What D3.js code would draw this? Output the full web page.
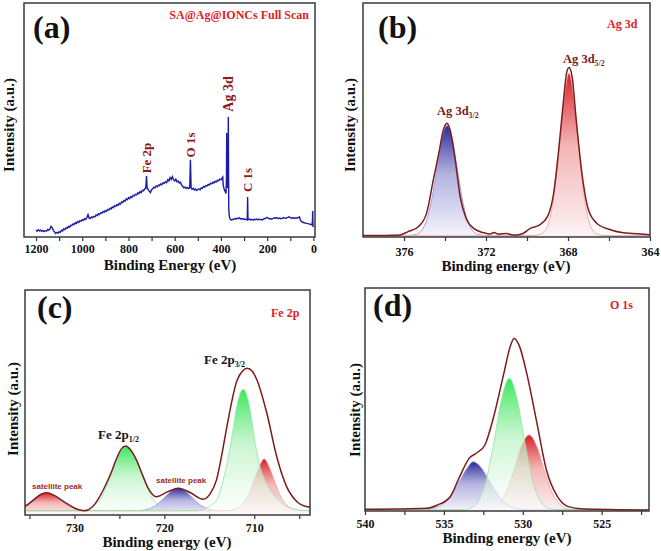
<!DOCTYPE html>
<html><head><meta charset="utf-8">
<script src="https://cdn.jsdelivr.net/npm/d3@7"></script>
<style>body{margin:0;background:#fff}svg{display:block}</style>
</head><body>
<svg id="chart" width="661" height="551"></svg>
<script>
// ---------------- DATA ----------------
// (a) survey spectrum [binding energy eV, intensity a.u.]
const surveyData = [
[1200,3.0],[1195,2.5],[1190,3.1],[1185,2.6],[1180,2.9],[1175,2.4],[1170,2.8],[1165,2.3],[1160,2.7],[1155,2.5],
[1150,3.2],[1145,2.9],[1140,3.4],[1135,4.6],[1130,4.0],[1125,2.8],[1120,2.2],[1115,1.5],[1110,2.0],[1105,1.6],
[1100,2.3],[1095,2.0],[1090,2.9],[1085,2.6],[1080,3.5],[1075,3.1],[1070,4.0],[1065,3.7],[1060,4.5],[1055,4.2],
[1050,5.0],[1045,4.9],[1040,5.6],[1035,5.3],[1030,6.1],[1025,5.8],[1020,6.6],[1015,6.2],[1010,7.0],[1005,6.8],
[1000,7.4],[995,7.1],[990,7.8],[985,7.5],[980,8.3],[975,9.6],[970,8.0],[965,7.9],[960,8.6],[955,8.3],
[950,8.8],[945,8.6],[940,9.4],[935,9.1],[930,9.9],[925,9.6],[920,10.4],[915,10.1],[910,10.9],[905,10.6],
[900,11.3],[895,11.0],[890,11.8],[885,11.5],[880,12.3],[875,12.0],[870,12.9],[865,12.5],[860,13.4],[855,13.1],
[850,13.8],[845,13.5],[840,14.4],[835,14.0],[830,15.0],[825,14.7],[820,15.6],[815,15.3],[810,16.3],[805,15.9],
[800,16.8],[795,16.4],[790,17.3],[785,16.9],[780,17.8],[775,17.6],[770,18.2],[765,18.0],[760,18.8],[755,18.5],
[750,19.4],[745,19.0],[740,20.0],[735,19.7],[730,20.5],[725,21.0],[722,26.1],[719,20.8],[715,20.4],[710,19.6],
[705,19.0],[700,20.2],[695,20.6],[690,21.3],[685,21.0],[680,21.8],[675,21.5],[670,22.2],[665,22.0],[660,22.7],
[655,22.4],[650,23.2],[645,22.9],[640,23.6],[635,23.2],[630,24.5],[625,24.0],[620,25.4],[615,24.6],[610,25.8],
[605,24.5],[600,24.0],[595,24.7],[590,23.6],[585,23.9],[580,23.1],[575,23.4],[570,22.2],[565,21.6],[560,21.0],
[555,21.3],[550,20.8],[545,21.2],[540,20.7],[535,21.0],[532,33.0],[529,21.0],[525,20.4],[520,20.8],[515,20.1],
[510,20.5],[505,19.9],[500,20.3],[495,20.6],[490,20.2],[485,21.0],[480,20.8],[475,21.6],[470,21.3],[465,22.0],
[460,21.8],[455,22.5],[450,22.2],[445,23.0],[440,22.7],[435,23.4],[430,23.1],[425,23.8],[420,23.5],[415,24.3],
[410,24.0],[405,24.7],[400,24.4],[395,25.2],[392,25.6],[390,22.0],[386,20.5],[382,19.5],[378,18.6],[376,25.0],
[375,44.4],[374,28.0],[372,21.0],[370,22.2],[369,35.0],[368,51.3],[367,30.0],[366,12.0],[364,9.0],[361,7.9],
[358,7.4],[355,7.3],[350,7.6],[345,7.5],[340,7.9],[335,7.6],[330,8.1],[325,7.8],[320,8.2],[315,7.7],
[310,7.9],[305,7.6],[300,7.8],[295,7.4],[290,7.6],[286,7.3],[284.5,17.1],[283,7.6],[280,7.4],[275,7.7],
[270,7.3],[265,7.5],[260,7.2],[255,7.6],[250,7.4],[245,7.7],[240,7.3],[235,7.6],[230,7.4],[225,7.5],
[220,7.3],[215,7.7],[210,7.9],[205,8.1],[200,8.4],[195,8.0],[190,7.7],[185,7.9],[180,7.6],[175,7.9],
[170,8.2],[165,8.0],[160,8.3],[155,8.0],[150,7.9],[145,8.1],[140,7.8],[135,8.0],[130,8.3],[125,8.1],
[120,8.0],[115,8.2],[110,8.4],[105,8.6],[100,8.3],[95,8.0],[90,8.2],[85,8.1],[80,8.0],[75,8.2],
[70,8.0],[65,8.4],[60,8.6],[57,7.5],[55,7.0],[50,6.6],[45,6.3],[40,6.1],[35,6.0],[30,5.8],
[25,5.7],[20,5.6],[15,5.5],[10,5.3],[6,5.2],[4,7.0],[3,11.1],[2,6.0],[1,4.3],[0,4.6]
];
const surveyMajorTicks = [1200,1000,800,600,400,200,0];
const surveyMinorTicks = [1100,900,700,500,300,100];
const surveyPeakLabels = [["Fe 2p",722],["O 1s",531],["Ag 3d",370],["C 1s",284]];

// (b) Ag 3d
const agEnvelope = [
[378,0.6],[377,0.6],[376.6,0.7],[376.2,0.9],[375.8,2.3],[375.3,4.4],[374.9,10.1],[374.57,24.4],[374.3,35.8],
[374.08,45.7],[373.9,48.6],[373.75,45.7],[373.5,32.9],[373.26,17.2],[373.0,8.7],[372.6,3.7],[372.0,1.6],
[371.8,1.3],[371.6,1.9],[371.4,1.2],[371.0,1.5],[370.7,0.9],[370.5,0.9],[370.17,1.6],[369.84,3.7],[369.4,5.1],
[369.0,8.7],[368.7,18.7],[368.47,35.8],[368.2,60.0],[368.07,70.0],[367.95,72.4],[367.8,68.5],[367.6,50.0],
[367.3,25.8],[367.0,11.5],[366.6,5.9],[365.9,3.0],[365.3,1.8],[364.3,1.2],[364,1.0]
];
const ag3d32Fit = [
[378,0.5],[376,0.5],[375.4,1.1],[375.15,2.7],[374.9,7.0],[374.65,15.9],[374.4,29.1],[374.15,42.1],[373.9,47.6],
[373.65,42.1],[373.4,29.1],[373.15,15.9],[372.9,7.0],[372.65,2.7],[372.4,1.1],[371.8,0.5],[364,0.5]
];
const ag3d52Fit = [
[378,0.5],[370,0.5],[369.45,0.9],[369.2,2.0],[368.95,6.0],[368.7,16.5],[368.45,36.0],[368.2,58.0],[367.95,70.0],
[367.7,58.0],[367.45,36.0],[367.2,16.5],[366.95,6.0],[366.7,2.0],[366.45,0.9],[366,0.5],[364,0.5]
];
const agMajorTicks = [376,372,368,364];
const agMinorTicks = [374,370,366];

// (c) Fe 2p
const feEnvelope = [
[735.5,3.9],[735.4,4.1],[734.5,6.8],[733.8,9.0],[733.1,9.9],[732.3,8.8],[731.5,6.8],[730.9,5.2],[729.9,2.9],
[728.85,1.9],[727.8,4.5],[726.8,11.1],[726,18.0],[725.3,25.2],[724.8,29.3],[724.3,30.7],[723.7,28.6],[723.1,24.4],
[722.4,17.5],[721.8,11.9],[720.9,8.1],[719.6,10.4],[718.45,11.9],[717.1,9.9],[715.7,7.0],[714.9,9.5],[714.2,15.6],
[713.6,27.0],[713.05,39.2],[711.9,60.0],[711.3,64.0],[710.8,65.2],[710.2,63.8],[709.7,60.0],[708.6,45.2],
[707.5,25.9],[706.4,12.6],[705.25,5.9],[704.1,3.7],[703.8,3.6]
];
const feSat1Fit = [
[735.5,4.1],[735.1,5.1],[734.6,6.7],[734.1,8.3],[733.6,9.5],[733.1,9.9],[732.6,9.5],[732.1,8.3],[731.6,6.7],
[731.1,5.1],[730.6,3.8],[730.1,2.9],[729.6,2.3],[729.1,2.0],[728.1,1.8],[703.8,1.8]
];
const fe2p12Fit = [
[735.5,1.8],[729.7,1.85],[729.2,2.0],[728.7,2.35],[728.2,3.1],[727.7,4.4],[727.2,6.7],[726.7,10.3],[726.2,14.9],
[725.7,20.3],[725.2,25.4],[724.7,29.1],[724.2,30.5],[723.7,29.1],[723.2,25.4],[722.7,20.3],[722.2,14.9],
[721.7,10.3],[721.2,6.7],[720.7,4.4],[720.2,3.1],[719.7,2.35],[719.2,2.0],[718.7,1.85],[703.8,1.8]
];
const feSat2Fit = [
[735.5,1.8],[723,1.9],[722.45,2.1],[721.95,2.47],[721.45,3.2],[720.95,4.3],[720.45,5.95],[719.95,7.9],[719.45,9.9],
[718.95,11.35],[718.45,11.9],[717.95,11.35],[717.45,9.9],[716.95,7.9],[716.45,5.95],[715.95,4.3],[715.45,3.2],
[714.95,2.47],[714.45,2.1],[713.95,1.9],[703.8,1.8]
];
const fe2p32Fit = [
[735.5,1.8],[716.5,1.9],[715.5,2.6],[714.8,4.5],[714.17,6.7],[713.8,10.5],[713.36,17.0],[713.0,23.5],[712.61,31.9],
[712.3,39.5],[712.02,46.7],[711.65,53.0],[711.27,55.9],[710.85,53.5],[710.46,46.7],[709.9,31.9],[709.4,22.0],
[708.97,17.0],[708.2,11.0],[707.3,6.7],[706.5,4.0],[705.5,2.5],[704.5,2.0],[703.8,1.9]
];
const fe2p32bFit = [
[735.5,1.8],[713.3,1.9],[712.5,2.2],[711.9,3.0],[711.3,4.8],[710.7,8.5],[710.1,14.5],[709.5,21.0],[708.9,24.9],
[708.3,21.0],[707.7,14.5],[707.1,8.5],[706.5,4.8],[705.9,3.0],[705.3,2.2],[704.5,1.9],[703.8,1.8]
];
const feMajorTicks = [730,720,710];
const feMinorTicks = [735,725,715,705];

// (d) O 1s
const oEnvelope = [
[540,0.8],[538,0.9],[536.1,1.2],[535.4,2.7],[534.6,6.4],[534,15.4],[533.4,23.6],[532.9,26.1],[532.4,29.6],
[531.9,40.8],[531.2,61.7],[530.8,73.7],[530.55,77.4],[530.2,73.7],[529.75,61.7],[529.1,39.3],[528.5,18.4],
[527.8,6.4],[527.2,2.2],[526.35,1.0],[524,0.6],[522,0.4]
];
const oBlueFit = [
[540,0.5],[536.2,0.6],[535.5,1.5],[535,3.5],[534.5,7.5],[534,13.5],[533.5,19.5],[533.15,22.1],[532.7,20.0],
[532.2,14.5],[531.7,8.5],[531.2,4.0],[530.7,1.8],[530.2,0.9],[529.5,0.5],[522,0.5]
];
const oGreenFit = [
[540,0.5],[533.8,0.6],[533.35,1.2],[532.85,4.2],[532.35,12.9],[531.85,30.0],[531.35,50.0],[530.85,59.5],
[530.35,50.0],[529.85,30.0],[529.35,12.9],[528.85,4.2],[528.35,1.2],[527.8,0.6],[522,0.5]
];
const oRedFit = [
[540,0.5],[532.6,0.6],[532.1,0.9],[531.6,2.6],[531.1,7.6],[530.6,17.3],[530.1,28.8],[529.6,34.1],[529.1,28.8],
[528.6,17.3],[528.1,7.6],[527.6,2.6],[527.1,0.9],[526.6,0.6],[522,0.5]
];
const oMajorTicks = [540,535,530,525];
const oMinorTicks = [537.5,532.5,527.5,522.5];

// ---------------- DRAW ----------------
const svg = d3.select("#chart");
const defs = svg.append("defs");
const SERIF = "'Liberation Serif','Times New Roman',serif";
const SANS = "'Liberation Sans',Arial,sans-serif";

function gradient(id, stops){
  const g = defs.append("linearGradient").attr("id", id)
    .attr("x1",0).attr("y1",0).attr("x2",0).attr("y2",1);
  stops.forEach(s => g.append("stop").attr("offset", s[0]).attr("stop-color", s[1]).attr("stop-opacity", s[2]));
}
gradient("gBlue", [[0,"#2a2a98",1],[0.45,"#a8a8dc",0.85],[1,"#f6f4fc",0.9]]);
gradient("gRed", [[0,"#d81e26",1],[0.45,"#f2aaaa",0.85],[1,"#fdf2f4",0.9]]);
gradient("gGreen", [[0,"#2ee650",0.95],[0.45,"#b6f2c0",0.7],[1,"#ffffff",0.55]]);

function makePanel(cfg){
  const x = d3.scaleLinear().domain(cfg.xDomain).range([cfg.left, cfg.right]);
  const y = d3.scaleLinear().domain([0,100]).range([cfg.bottom, cfg.top]);
  const g = svg.append("g");
  const clipId = "clip" + cfg.name;
  defs.append("clipPath").attr("id", clipId).append("rect")
    .attr("x", cfg.left).attr("y", cfg.top).attr("width", cfg.right-cfg.left).attr("height", cfg.bottom-cfg.top);
  const plot = g.append("g").attr("clip-path", `url(#${clipId})`);

  const axG = g.append("g").attr("transform", `translate(0,${cfg.bottom})`);
  axG.call(d3.axisBottom(x).tickValues(cfg.minor).tickSize(4).tickFormat(""))
     .call(s => s.select(".domain").remove())
     .call(s => s.selectAll("line").attr("stroke","#333").attr("stroke-width",1.2));
  const axM = g.append("g").attr("transform", `translate(0,${cfg.bottom})`);
  axM.call(d3.axisBottom(x).tickValues(cfg.major).tickSize(4).tickFormat(d => d))
     .call(s => s.select(".domain").remove())
     .call(s => s.selectAll("line").attr("stroke","#333").attr("stroke-width",1.2))
     .call(s => s.selectAll("text").attr("y", cfg.tickLabelY - cfg.bottom).attr("dy","0.35em")
        .attr("font-family", SERIF).attr("font-weight","bold").attr("font-size",12).attr("fill","#111"));

  g.append("rect").attr("x", cfg.left).attr("y", cfg.top)
    .attr("width", cfg.right-cfg.left).attr("height", cfg.bottom-cfg.top)
    .attr("fill","none").attr("stroke","#3a3a3a").attr("stroke-width",1.5);

  g.append("text").attr("x", cfg.xTitle[0]).attr("y", cfg.xTitle[1]).attr("dy","0.35em")
    .attr("text-anchor","middle").attr("font-family",SERIF).attr("font-weight","bold")
    .attr("font-size",15).attr("fill","#111").text(cfg.xTitleText);
  g.append("text").attr("transform", `translate(${cfg.yTitle[0]},${cfg.yTitle[1]}) rotate(-90)`)
    .attr("dy","0.35em").attr("text-anchor","middle").attr("font-family",SERIF).attr("font-weight","bold")
    .attr("font-size",15).attr("fill","#111").text("Intensity (a.u.)");
  g.append("text").attr("x", cfg.tag[0]).attr("y", cfg.tag[1]).attr("font-family",SERIF)
    .attr("font-weight","bold").attr("font-size",32).attr("fill","#111").text(cfg.tagText);
  g.append("text").attr("x", cfg.head[0]).attr("y", cfg.head[1]).attr("text-anchor", cfg.headAnchor || "start")
    .attr("font-family",SERIF).attr("font-weight","bold").attr("font-size",12).attr("fill","#dd2228").text(cfg.headText);
  return {x, y, g, plot};
}

function fitArea(p, data, fill, stroke){
  const area = d3.area().x(d => p.x(d[0])).y0(p.y(0)).y1(d => p.y(d[1])).curve(d3.curveMonotoneX);
  const line = d3.line().x(d => p.x(d[0])).y(d => p.y(d[1])).curve(d3.curveMonotoneX);
  p.plot.append("path").datum(data).attr("d", area).attr("fill", fill);
  p.plot.append("path").datum(data).attr("d", line).attr("fill","none").attr("stroke", stroke).attr("stroke-width",0.9);
}
function envelope(p, data){
  const line = d3.line().x(d => p.x(d[0])).y(d => p.y(d[1])).curve(d3.curveMonotoneX);
  p.plot.append("path").datum(data).attr("d", line).attr("fill","none").attr("stroke","#7a1c1c").attr("stroke-width",1.5);
}
function subLabel(g, x, y, main, sub, color, size){
  const t = g.append("text").attr("x", x).attr("y", y).attr("font-family",SERIF).attr("font-weight","bold")
    .attr("font-size", size).attr("fill", color);
  t.append("tspan").text(main);
  t.append("tspan").attr("font-size", size*0.62).attr("dy", 3).text(sub);
}

// ---- (a)
const pa = makePanel({name:"a", xDomain:[1252,-7], left:24, right:315, top:3, bottom:237,
  major:surveyMajorTicks, minor:surveyMinorTicks, tickLabelY:249,
  xTitle:[170,265], xTitleText:"Binding Energy (eV)", yTitle:[9,125],
  tag:[33,38], tagText:"(a)", head:[309,19], headAnchor:"end", headText:"SA@Ag@IONCs Full Scan"});
pa.plot.append("path").datum(surveyData)
  .attr("d", d3.line().x(d => pa.x(d[0])).y(d => pa.y(d[1])))
  .attr("fill","none").attr("stroke","#1c1ca4").attr("stroke-width",1.4);
const surveyLabelY = {"Fe 2p":158, "O 1s":145, "Ag 3d":94, "C 1s":180};
surveyPeakLabels.forEach(([t, e]) => {
  pa.g.append("text").attr("transform", `translate(${pa.x(e)},${surveyLabelY[t]}) rotate(-90)`)
    .attr("dy","0.35em").attr("text-anchor","middle").attr("font-family",SERIF).attr("font-weight","bold")
    .attr("font-size", t==="Ag 3d"?14:13).attr("fill","#8b1a1a").text(t);
});

// ---- (b)
const pb = makePanel({name:"b", xDomain:[378,364], left:363, right:650, top:3, bottom:237,
  major:agMajorTicks, minor:agMinorTicks, tickLabelY:252,
  xTitle:[506,266], xTitleText:"Binding energy (eV)", yTitle:[350,125],
  tag:[378,38], tagText:"(b)", head:[607,28], headText:"Ag 3d"});
fitArea(pb, ag3d32Fit, "url(#gBlue)", "#9a9ae0");
fitArea(pb, ag3d52Fit, "url(#gRed)", "#f2a0a0");
envelope(pb, agEnvelope);
subLabel(pb.g, 437, 115, "Ag 3d", "3/2", "#7a1a1a", 12.5);
subLabel(pb.g, 563, 63, "Ag 3d", "5/2", "#7a1a1a", 12.5);

// ---- (c)
const pc = makePanel({name:"c", xDomain:[735.5,703.8], left:25, right:310, top:290, bottom:515,
  major:feMajorTicks, minor:feMinorTicks, tickLabelY:528,
  xTitle:[167,542], xTitleText:"Binding energy (eV)", yTitle:[13,409],
  tag:[37,318], tagText:"(c)", head:[271,317], headText:"Fe 2p"});
fitArea(pc, feSat1Fit, "url(#gRed)", "#f2a0a0");
fitArea(pc, fe2p12Fit, "url(#gGreen)", "#9ce6a8");
fitArea(pc, feSat2Fit, "url(#gBlue)", "#a0a0e6");
fitArea(pc, fe2p32bFit, "url(#gRed)", "#f2a0a0");
fitArea(pc, fe2p32Fit, "url(#gGreen)", "#9ce6a8");
envelope(pc, feEnvelope);
subLabel(pc.g, 204, 364, "Fe 2p", "3/2", "#151515", 13);
subLabel(pc.g, 98, 439, "Fe 2p", "1/2", "#151515", 13);
[["satellite peak",32,489],["satellite peak",156,483]].forEach(([t,x,y]) => {
  pc.g.append("text").attr("x",x).attr("y",y).attr("font-family",SANS).attr("font-weight","bold")
    .attr("font-size",8).attr("fill","#a02a2a").text(t);
});

// ---- (d)
const pd = makePanel({name:"d", xDomain:[540,522], left:365, right:649, top:288, bottom:511,
  major:oMajorTicks, minor:oMinorTicks, tickLabelY:524,
  xTitle:[507,538], xTitleText:"Binding energy (eV)", yTitle:[355,410],
  tag:[373,316], tagText:"(d)", head:[610,309], headText:"O 1s"});
fitArea(pd, oRedFit, "url(#gRed)", "#f2a0a0");
fitArea(pd, oBlueFit, "url(#gBlue)", "#a0a0e6");
fitArea(pd, oGreenFit, "url(#gGreen)", "#9ce6a8");
envelope(pd, oEnvelope);
</script>
</body></html>
